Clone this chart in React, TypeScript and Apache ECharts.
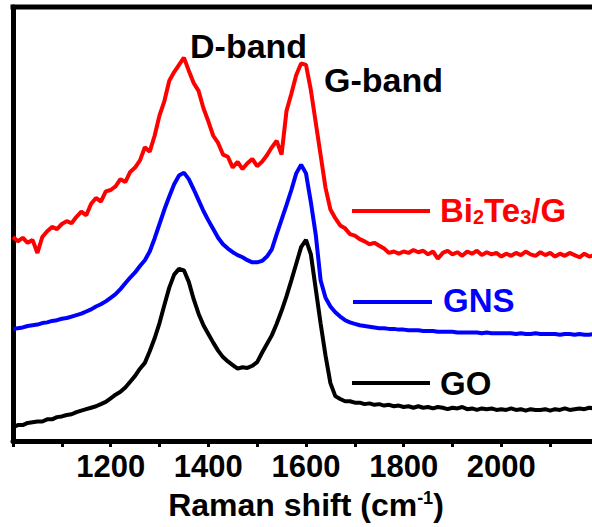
import React, { useEffect, useRef } from "react";
import * as echarts from "echarts";

const shift = [
  1000, 1010, 1020, 1030, 1040, 1050, 1060, 1070, 1080, 1090,
  1100, 1110, 1120, 1130, 1140, 1150, 1160, 1170, 1180, 1190,
  1200, 1210, 1220, 1230, 1240, 1250, 1260, 1270, 1280, 1290,
  1300, 1310, 1320, 1330, 1340, 1350, 1360, 1370, 1380, 1390,
  1400, 1410, 1420, 1430, 1440, 1450, 1460, 1470, 1480, 1490,
  1500, 1510, 1520, 1530, 1540, 1550, 1560, 1570, 1580, 1590,
  1600, 1610, 1620, 1630, 1640, 1650, 1660, 1670, 1680, 1690,
  1700, 1710, 1720, 1730, 1740, 1750, 1760, 1770, 1780, 1790,
  1800, 1810, 1820, 1830, 1840, 1850, 1860, 1870, 1880, 1890,
  1900, 1910, 1920, 1930, 1940, 1950, 1960, 1970, 1980, 1990,
  2000, 2010, 2020, 2030, 2040, 2050, 2060, 2070, 2080, 2090,
  2100, 2110, 2120, 2130, 2140, 2150, 2160, 2170, 2180, 2190,
  2200,
];

const bi2te3G = [
  2.82, 2.76, 2.81, 2.74, 2.78, 2.60, 2.82, 2.90, 2.96, 2.93,
  3.00, 3.04, 3.01, 3.10, 3.17, 3.12, 3.28, 3.36, 3.31, 3.45,
  3.47, 3.52, 3.62, 3.58, 3.72, 3.78, 3.88, 4.06, 4.00, 4.22,
  4.50, 4.70, 4.98, 5.10, 5.20, 5.30, 5.12, 4.95, 4.84, 4.60,
  4.42, 4.22, 4.12, 3.96, 3.93, 3.78, 3.86, 3.76, 3.84, 3.90,
  3.80, 3.86, 3.95, 4.06, 4.15, 3.96, 4.56, 4.80, 5.06, 5.22,
  5.20, 4.85, 4.40, 3.95, 3.50, 3.20, 3.08, 2.98, 2.94, 2.86,
  2.84, 2.79, 2.76, 2.72, 2.74, 2.70, 2.66, 2.60, 2.62, 2.59,
  2.62, 2.60, 2.64, 2.61, 2.63, 2.58, 2.62, 2.52, 2.60, 2.63,
  2.58, 2.61, 2.56, 2.62, 2.59, 2.63, 2.57, 2.61, 2.58, 2.60,
  2.55, 2.59, 2.56, 2.60, 2.57, 2.62, 2.58, 2.56, 2.61, 2.57,
  2.60, 2.55, 2.59, 2.56, 2.60, 2.57, 2.54, 2.59, 2.55, 2.57,
  2.56,
];

const gns = [
  1.55, 1.56, 1.57, 1.59, 1.60, 1.61, 1.63, 1.64, 1.66, 1.67,
  1.69, 1.70, 1.72, 1.74, 1.76, 1.79, 1.82, 1.86, 1.89, 1.93,
  1.98, 2.03, 2.10, 2.18, 2.26, 2.33, 2.42, 2.50, 2.62, 2.80,
  3.00, 3.20, 3.38, 3.55, 3.67, 3.71, 3.62, 3.48, 3.33, 3.18,
  3.05, 2.93, 2.81, 2.72, 2.66, 2.61, 2.57, 2.54, 2.50, 2.47,
  2.47, 2.49, 2.55, 2.65, 2.86, 3.06, 3.26, 3.47, 3.70, 3.82,
  3.70, 3.30, 2.85, 2.22, 1.98, 1.86, 1.78, 1.72, 1.67, 1.64,
  1.62, 1.60, 1.59, 1.58, 1.57, 1.56, 1.56, 1.55, 1.55, 1.54,
  1.54, 1.53, 1.53, 1.53, 1.52, 1.52, 1.52, 1.51, 1.51, 1.51,
  1.51, 1.50, 1.50, 1.50, 1.50, 1.50, 1.49, 1.50, 1.49, 1.49,
  1.49, 1.49, 1.49, 1.48, 1.49, 1.48, 1.48, 1.49, 1.48, 1.48,
  1.48, 1.48, 1.47, 1.48, 1.48, 1.47, 1.48, 1.47, 1.47, 1.48,
  1.47,
];

const go = [
  0.19, 0.22, 0.22, 0.25, 0.26, 0.27, 0.27, 0.30, 0.30, 0.33,
  0.34, 0.36, 0.37, 0.40, 0.42, 0.44, 0.46, 0.48, 0.51, 0.54,
  0.59, 0.64, 0.68, 0.74, 0.82, 0.90, 1.00, 1.08, 1.24, 1.42,
  1.63, 1.88, 2.12, 2.30, 2.38, 2.36, 2.20, 1.96, 1.76, 1.60,
  1.48, 1.36, 1.25, 1.16, 1.10, 1.05, 1.00, 1.02, 1.01, 1.04,
  1.09, 1.22, 1.34, 1.46, 1.62, 1.80, 2.00, 2.22, 2.45, 2.68,
  2.78, 2.58, 2.10, 1.62, 1.18, 0.80, 0.62, 0.58, 0.55, 0.55,
  0.53, 0.53, 0.51, 0.52, 0.50, 0.51, 0.49, 0.50, 0.48, 0.49,
  0.47, 0.48, 0.46, 0.48, 0.46, 0.47, 0.45, 0.47, 0.46, 0.44,
  0.46, 0.45, 0.47, 0.44, 0.45, 0.43, 0.45, 0.44, 0.45, 0.43,
  0.44, 0.43, 0.45, 0.43, 0.44, 0.42, 0.44, 0.43, 0.43, 0.44,
  0.42, 0.44, 0.43, 0.45, 0.43, 0.44, 0.45, 0.44, 0.46, 0.45,
  0.45,
];

const xLabels = [1200, 1400, 1600, 1800, 2000];
const FONT = "'Liberation Sans', Arial, sans-serif";

export default function App() {
  const ref = useRef<HTMLDivElement>(null);
  useEffect(() => {
    if (!ref.current) return;
    document.body.style.margin = "0";
    const chart = echarts.init(ref.current, null, { renderer: "svg" });
    const mk = (arr: number[]) => shift.map((x, i) => [x, arr[i]]);
    const lineSeries = (name: string, arr: number[], color: string) => ({
      type: "line",
      name,
      data: mk(arr),
      showSymbol: false,
      symbol: "none",
      lineStyle: { color, width: 4 },
      z: 3,
    });
    chart.setOption({
      animation: false,
      grid: {
        left: 13,
        top: 7,
        right: -7,
        bottom: 86,
        containLabel: false,
        outerBoundsMode: "none",
      },
      xAxis: {
        type: "value",
        min: 1000,
        max: 2200,
        interval: 100,
        position: "bottom",
        axisLine: { onZero: false, lineStyle: { color: "#000", width: 5 } },
        axisTick: { length: 6, lineStyle: { color: "#000", width: 3 } },
        axisLabel: {
          formatter: (v: number) => (xLabels.includes(v) ? String(v) : ""),
          fontSize: 31,
          fontWeight: "bold",
          fontFamily: FONT,
          color: "#000",
          margin: 10,
        },
        splitLine: { show: false },
        name: "Raman shift (cm{sup|-1})",
        nameLocation: "middle",
        nameGap: 48,
        nameTextStyle: {
          fontSize: 32,
          fontWeight: "bold",
          fontFamily: FONT,
          color: "#000",
          rich: {
            sup: {
              fontSize: 18,
              fontWeight: "bold",
              fontFamily: FONT,
              color: "#000",
              verticalAlign: "top",
            },
          },
        },
      },
      yAxis: {
        type: "value",
        min: 0,
        max: 6,
        interval: 1,
        axisLine: { show: true, onZero: false, lineStyle: { color: "#000", width: 5 } },
        axisTick: { show: true, inside: true, length: 3, lineStyle: { color: "#000", width: 2 } },
        axisLabel: { show: false },
        splitLine: { show: false },
      },
      series: [
        lineSeries("GO", go, "#000000"),
        lineSeries("GNS", gns, "#0000ff"),
        lineSeries("Bi2Te3/G", bi2te3G, "#ff0000"),
      ],
      graphic: [
        {
          type: "rect",
          shape: { x: 10.5, y: 4.5, width: 600, height: 5 },
          style: { fill: "#000" },
          z: 10,
        },
        {
          type: "text",
          x: 190,
          y: 46,
          style: { text: "D-band", font: `bold 34px ${FONT}`, fill: "#000", verticalAlign: "middle" },
        },
        {
          type: "text",
          x: 324,
          y: 80,
          style: { text: "G-band", font: `bold 34px ${FONT}`, fill: "#000", verticalAlign: "middle" },
        },
        { type: "line", shape: { x1: 352, y1: 211, x2: 430, y2: 211 }, style: { stroke: "#ff0000", lineWidth: 4 } },
        {
          type: "text",
          x: 440,
          y: 210,
          style: {
            text: "Bi{s|2}Te{s|3}/G",
            font: `bold 33px ${FONT}`,
            fill: "#ff0000",
            verticalAlign: "middle",
            rich: {
              s: { font: `bold 20px ${FONT}`, fill: "#ff0000", verticalAlign: "bottom" },
            },
          },
        },
        { type: "line", shape: { x1: 353, y1: 302, x2: 432, y2: 302 }, style: { stroke: "#0000ff", lineWidth: 4 } },
        {
          type: "text",
          x: 443,
          y: 300,
          style: { text: "GNS", font: `bold 33px ${FONT}`, fill: "#0000ff", verticalAlign: "middle" },
        },
        { type: "line", shape: { x1: 352, y1: 383, x2: 430, y2: 383 }, style: { stroke: "#000", lineWidth: 4 } },
        {
          type: "text",
          x: 440,
          y: 383,
          style: { text: "GO", font: `bold 33px ${FONT}`, fill: "#000", verticalAlign: "middle" },
        },
      ],
    });
    return () => chart.dispose();
  }, []);
  return <div ref={ref} style={{ width: 592, height: 527 }} />;
}
